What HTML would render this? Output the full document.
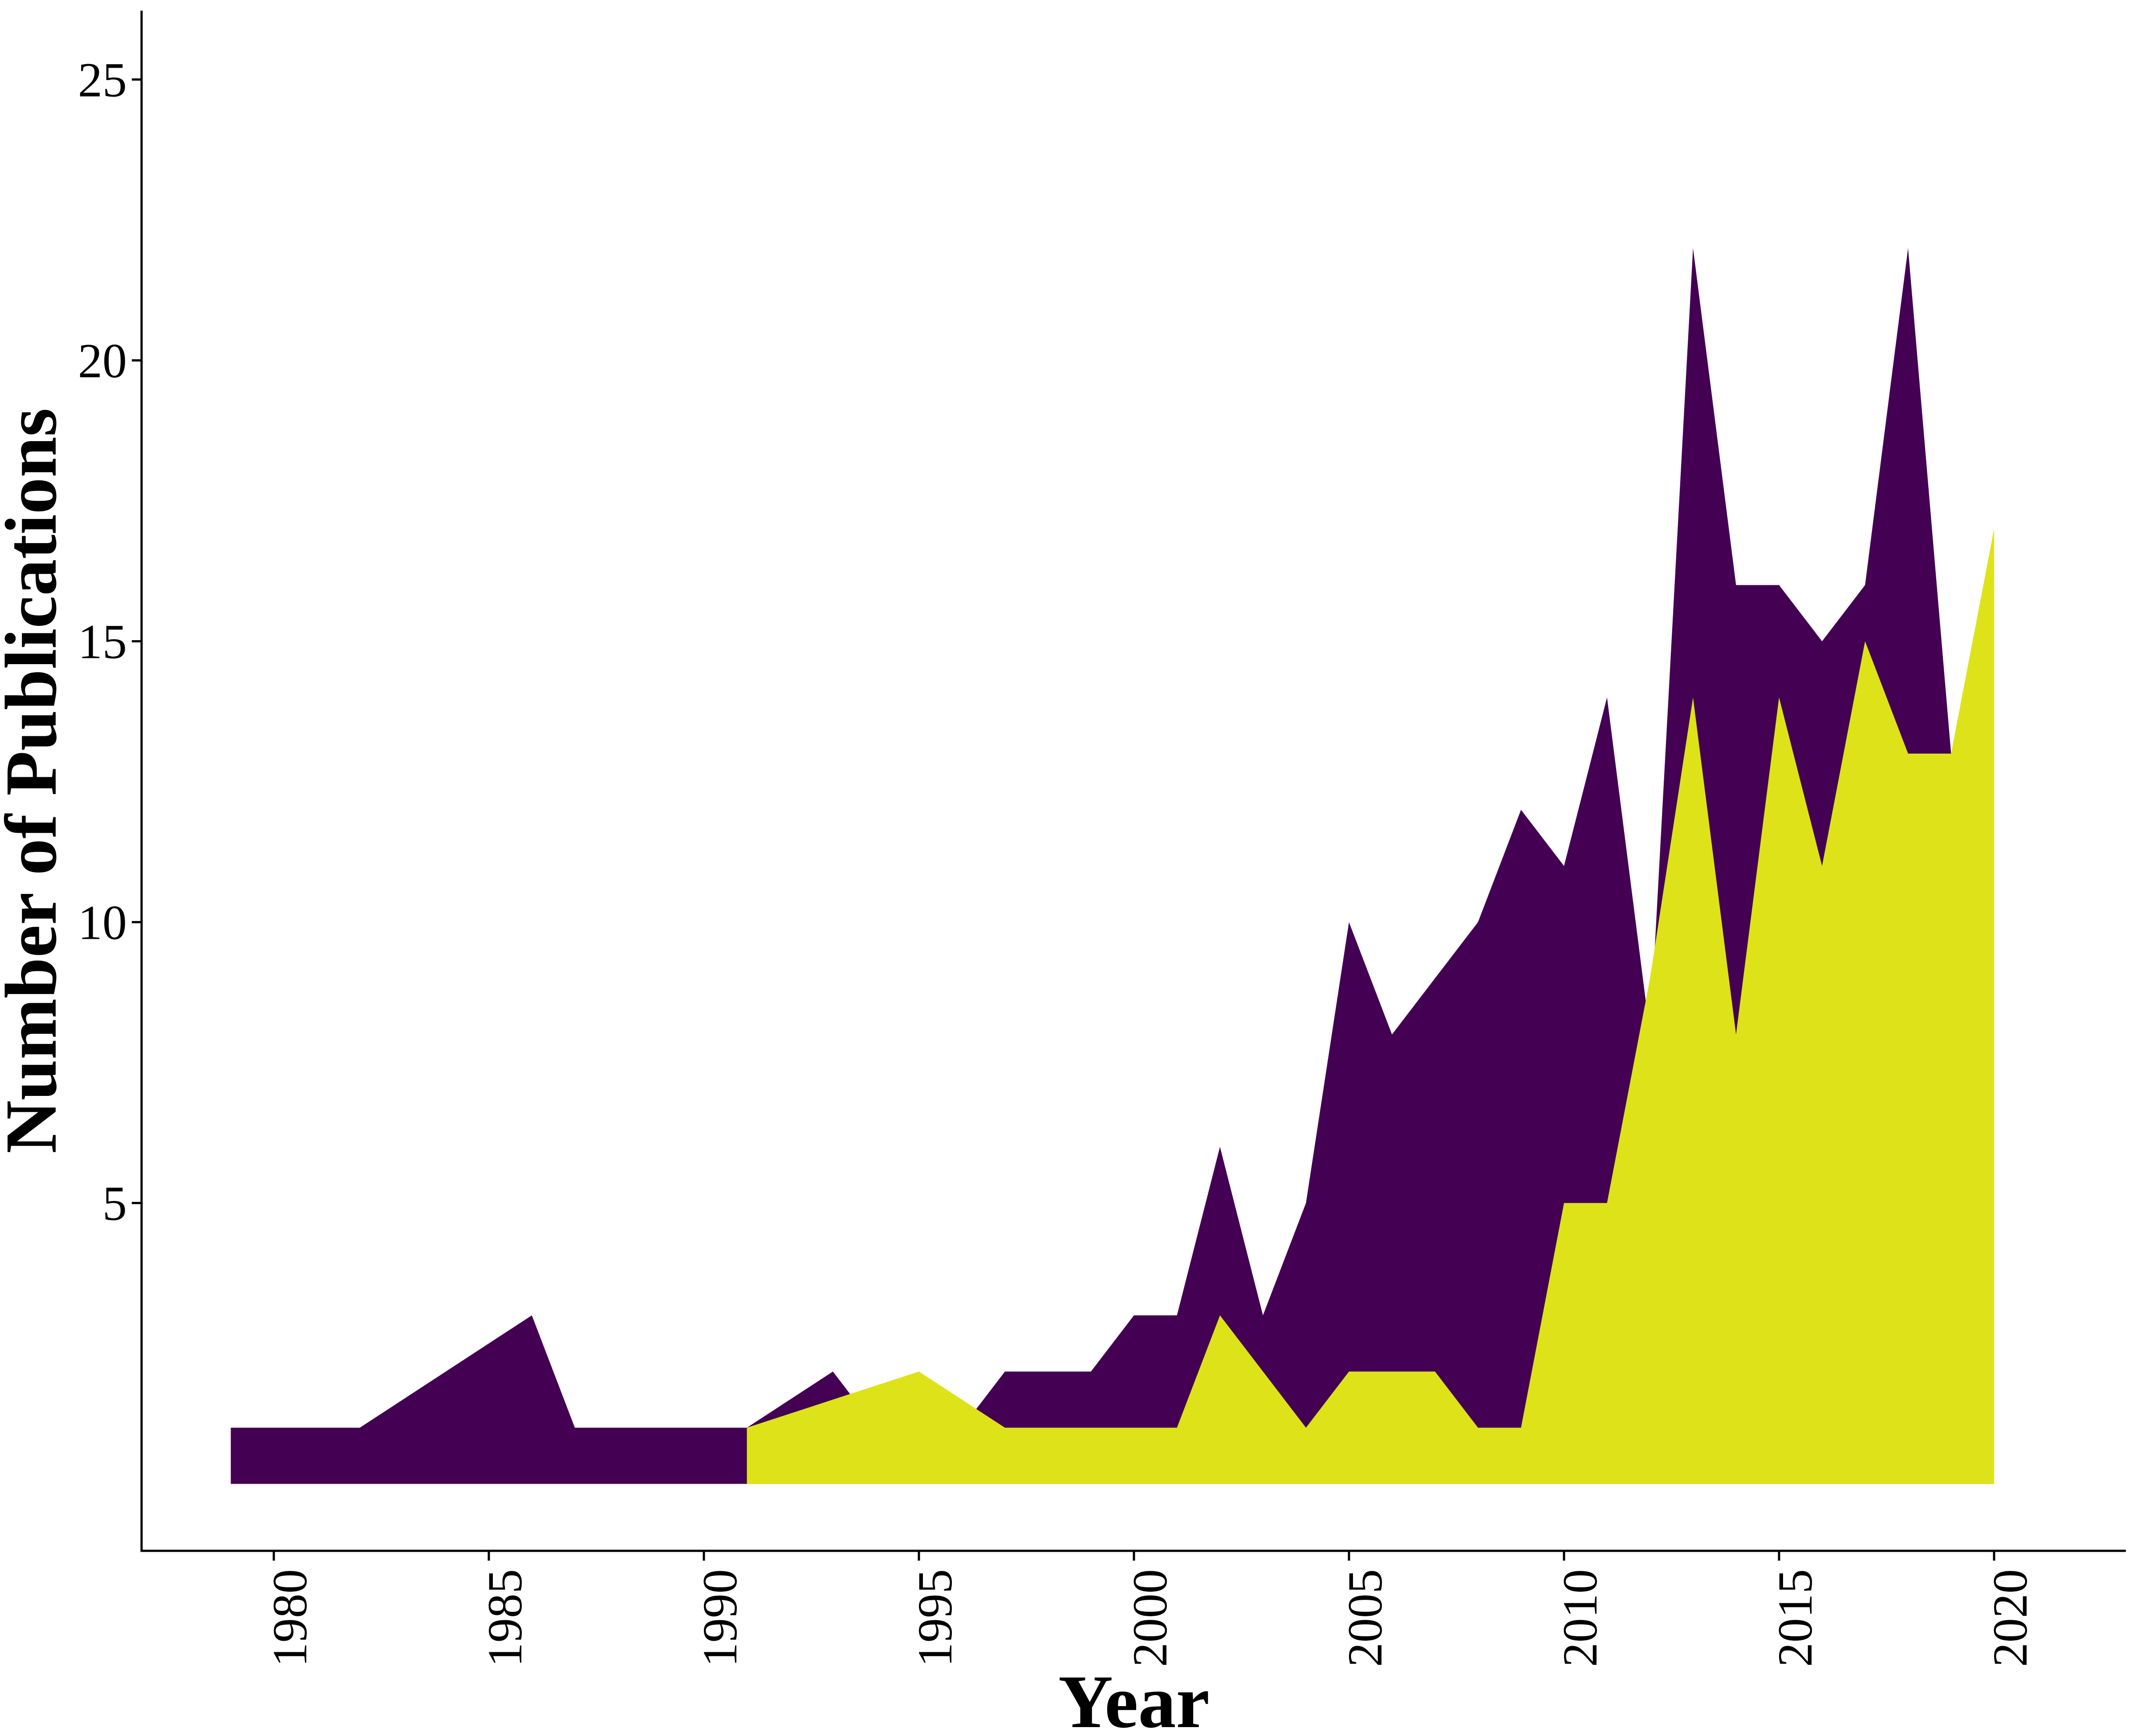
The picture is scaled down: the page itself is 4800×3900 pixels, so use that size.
<!DOCTYPE html>
<html><head><meta charset="utf-8"><style>html,body{margin:0;padding:0;background:#fff}svg{display:block}</style></head>
<body>
<svg id="chart" width="4800" height="3900" xmlns="http://www.w3.org/2000/svg" font-family="Liberation Serif, serif">
<rect width="4800" height="3900" fill="#fff"/>
<g id="marks"></g>
<g id="axes"></g>
<text x="0" y="0" transform="translate(125,1754) rotate(-90)" text-anchor="middle" font-weight="bold" font-size="165">Number of Publications</text>
<text x="2547" y="3880" text-anchor="middle" font-weight="bold" font-size="170">Year</text>
</svg>
<script>
const purpleYears = [1979,1982,1986,1987,1991,1993,1994,1995,1996,1997,1999,2000,2001,2002,2003,2004,2005,2006,2008,2009,2010,2011,2012,2013,2014,2015,2016,2017,2018,2019,2020];
const purpleValues = [1,1,3,1,1,2,1,1,1,2,2,3,3,6,3,5,10,8,10,12,11,14,8,22,16,16,15,16,22,13,14];
const yellowYears = [1991,1995,1997,2001,2002,2004,2005,2007,2008,2009,2010,2011,2012,2013,2014,2015,2016,2017,2018,2019,2020];
const yellowValues = [1,2,1,1,3,1,2,2,1,1,5,5,9,14,8,14,11,15,13,13,17];
const xTicks = [1980,1985,1990,1995,2000,2005,2010,2015,2020];
const yTicks = [5,10,15,20,25];

const NS="http://www.w3.org/2000/svg";
function xs(yr){return 615+(yr-1980)*96.6;}
function ys(v){return 3333.6-v*126.2;}
const marks=document.getElementById('marks');
const axes=document.getElementById('axes');
function area(years,vals,color,name){
  let d='M'+xs(years[0])+','+ys(0);
  years.forEach((y,i)=>{d+=' L'+xs(y)+','+ys(vals[i]);});
  d+=' L'+xs(years[years.length-1])+','+ys(0)+' Z';
  const p=document.createElementNS(NS,'path');
  p.setAttribute('d',d);p.setAttribute('fill',color);
  
  
  marks.appendChild(p);
}
area(purpleYears,purpleValues,'#440154','area-purple-series');
area(yellowYears,yellowValues,'#dde318','area-yellow-series');
function line(x1,y1,x2,y2,name){
  const l=document.createElementNS(NS,'line');
  l.setAttribute('x1',x1);l.setAttribute('y1',y1);l.setAttribute('x2',x2);l.setAttribute('y2',y2);
  l.setAttribute('stroke','#000');l.setAttribute('stroke-width','5');
  
  
  axes.appendChild(l);
}
line(318,24,318,3486,'y-axis-line');
line(316,3484,4775,3484,'x-axis-line');
yTicks.forEach(v=>{
  line(296,ys(v),318,ys(v),'y-tick');
  const t=document.createElementNS(NS,'text');
  t.setAttribute('x',285);t.setAttribute('y',ys(v)+38);
  t.setAttribute('text-anchor','end');t.setAttribute('font-size','110');
  t.textContent=v;
  
  
  axes.appendChild(t);
});
xTicks.forEach(v=>{
  line(xs(v),3484,xs(v),3506,'x-tick');
  const t=document.createElementNS(NS,'text');
  t.setAttribute('transform','translate('+(xs(v)+73)+',3525) rotate(-90)');
  t.setAttribute('text-anchor','end');t.setAttribute('font-size','110');
  t.textContent=v;
  
  
  axes.appendChild(t);
});
</script>
</body></html>
